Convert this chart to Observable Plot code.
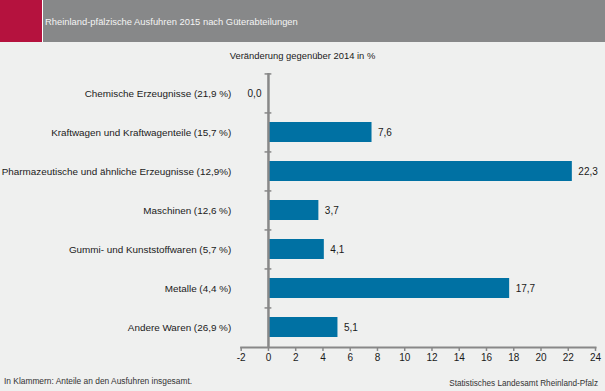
<!DOCTYPE html>
<html><head><meta charset="utf-8">
<script src="https://cdn.jsdelivr.net/npm/d3@7"></script>
<script src="https://cdn.jsdelivr.net/npm/@observablehq/plot@0.6"></script>
<style>
html,body{margin:0;padding:0;background:#eff0ef;}
#wrap{position:relative;width:605px;height:391px;font-family:"Liberation Sans",Arial,sans-serif;color:#1a1a1a;overflow:hidden;}
#head{position:absolute;left:0;top:0;width:605px;height:42px;background:#878889;}
#red{position:absolute;left:0;top:0;width:42px;height:42px;background:#b5123e;border-right:1px solid #fff;}
#title{position:absolute;left:45px;top:16px;font-size:9.4px;color:#f4f4f4;white-space:nowrap;}
#sub{position:absolute;left:0;width:605px;top:50px;text-align:center;font-size:9.4px;white-space:nowrap;}
#chart{position:absolute;left:0;top:42px;}
#note{position:absolute;left:4px;top:376px;font-size:8.4px;color:#333;white-space:nowrap;}
#src{position:absolute;right:7px;top:379px;font-size:8.2px;color:#333;white-space:nowrap;}
</style></head>
<body><div id="wrap">
<div id="head"><div id="red"></div><div id="title">Rheinland-pfälzische Ausfuhren 2015 nach Güterabteilungen</div></div>
<div id="sub">Veränderung gegenüber 2014 in %</div>
<div id="chart"></div>
<div id="note">In Klammern: Anteile an den Ausfuhren insgesamt.</div>
<div id="src">Statistisches Landesamt Rheinland-Pfalz</div>
</div>
<script>
const categories = [
  "Chemische Erzeugnisse (21,9 %)",
  "Kraftwagen und Kraftwagenteile (15,7 %)",
  "Pharmazeutische und ähnliche Erzeugnisse (12,9%)",
  "Maschinen (12,6 %)",
  "Gummi- und Kunststoffwaren (5,7 %)",
  "Metalle (4,4 %)",
  "Andere Waren (26,9 %)"
];
const values = [0.0, 7.6, 22.3, 3.7, 4.1, 17.7, 5.1];
const xTicks = [-2, 0, 2, 4, 6, 8, 10, 12, 14, 16, 18, 20, 22, 24];

const data = categories.map((c, i) => ({cat: c, v: values[i]}));
const H = 349, mT = 31, mB = 44;
const step = (H - mT - mB) / categories.length;
const fmt = v => v.toFixed(1).replace(".", ",");
const gray = "#888888";

const chart = Plot.plot({
  width: 605, height: H,
  marginLeft: 240.7, marginRight: 10, marginTop: mT, marginBottom: mB,
  style: {background: "transparent", fontFamily: "'Liberation Sans', Arial, sans-serif", fontSize: "10px", color: "#1a1a1a"},
  x: {domain: [-2, 24]},
  y: {domain: categories, paddingInner: 0.49, paddingOuter: 0.245},
  marks: [
    Plot.barX(data, {y: "cat", x: "v", fill: "#0071a3"}),
    Plot.ruleX([0], {stroke: gray, strokeWidth: 2.5}),
    Plot.ruleY(categories, {y: d => d, x1: -0.25, x2: 0.25, dy: -step / 2, stroke: gray, strokeWidth: 1.5}),
    Plot.frame({anchor: "bottom", stroke: gray, strokeWidth: 2}),
    Plot.axisX({ticks: xTicks, tickSize: 4, tickPadding: 2, stroke: gray, strokeWidth: 1.5, tickFormat: d => String(d), label: null, fontSize: 10}),
    Plot.axisY({tickSize: 0, tickPadding: 10, label: null, fontSize: 9.9}),
    Plot.text(data.filter(d => d.v !== 0), {y: "cat", x: "v", text: d => fmt(d.v), textAnchor: "start", dx: 6, fontSize: 10, fill: "#1a1a1a"}),
    Plot.text(data.filter(d => d.v === 0), {y: "cat", x: "v", text: d => fmt(d.v), textAnchor: "end", dx: -7, fontSize: 10, fill: "#1a1a1a"})
  ]
});
document.getElementById("chart").appendChild(chart);
</script>
</body></html>
